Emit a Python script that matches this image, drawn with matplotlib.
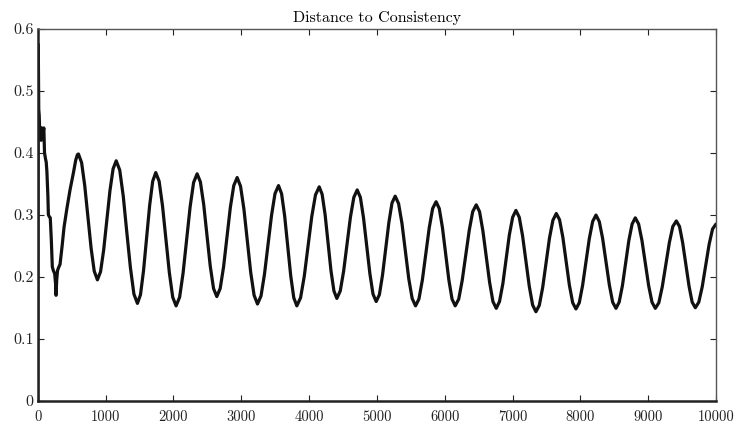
import numpy as np
import matplotlib.pyplot as plt

plt.rcParams['font.family'] = ['cmr10', 'DejaVu Serif']
plt.rcParams['axes.formatter.use_mathtext'] = True

# iteration -> distance to consistency
# start transient first, then each half swing between a peak and a trough
iterations = [
    0, 8, 15, 22, 30, 40, 50, 60, 75, 90, 100, 115, 125, 135, 150, 157, 170, 185,
    200, 215, 230, 250, 262, 270, 280, 292, 305, 329, 360, 388, 430, 476, 525, 560, 585, 600,
    647, 693, 740, 787, 833, 880,
    926, 972, 1018, 1065, 1111, 1157,
    1209, 1261, 1313, 1366, 1418, 1470,
    1515, 1560, 1605, 1650, 1695, 1740,
    1790, 1840, 1890, 1940, 1990, 2040,
    2092, 2143, 2195, 2247, 2298, 2350,
    2398, 2447, 2495, 2543, 2592, 2640,
    2690, 2740, 2790, 2840, 2890, 2940,
    2990, 3040, 3090, 3140, 3190, 3240,
    3292, 3343, 3395, 3447, 3498, 3550,
    3595, 3640, 3685, 3730, 3775, 3820,
    3875, 3930, 3985, 4040, 4095, 4150,
    4193, 4237, 4280, 4323, 4367, 4410,
    4460, 4510, 4560, 4610, 4660, 4710,
    4757, 4803, 4850, 4897, 4943, 4990,
    5037, 5083, 5130, 5177, 5223, 5270,
    5320, 5370, 5420, 5470, 5520, 5570,
    5620, 5671, 5721, 5772, 5822, 5873,
    5920, 5967, 6014, 6061, 6108, 6155,
    6207, 6258, 6310, 6362, 6413, 6465,
    6514, 6563, 6612, 6662, 6711, 6760,
    6808, 6857, 6905, 6953, 7002, 7050,
    7099, 7148, 7198, 7247, 7296, 7345,
    7395, 7445, 7495, 7545, 7595, 7645,
    7693, 7742, 7790, 7838, 7887, 7935,
    7984, 8033, 8082, 8132, 8181, 8230,
    8279, 8328, 8378, 8427, 8476, 8525,
    8572, 8620, 8668, 8715, 8763, 8810,
    8859, 8908, 8958, 9007, 9056, 9105,
    9157, 9208, 9260, 9312, 9363, 9415,
    9462, 9508, 9555, 9602, 9648, 9695,
    9746, 9797, 9848, 9898, 9949, 10000,
]
distance = [
    0.0, 0.575, 0.47, 0.46, 0.43, 0.44, 0.42, 0.44, 0.43, 0.44, 0.40, 0.39, 0.385, 0.37, 0.33, 0.30, 0.297, 0.295,
    0.26, 0.216, 0.21, 0.205, 0.19, 0.17, 0.195, 0.21, 0.214, 0.22, 0.25, 0.28, 0.31, 0.34, 0.367, 0.388, 0.397, 0.398,
    0.384, 0.347, 0.2965, 0.246, 0.209, 0.195,
    0.208, 0.243, 0.291, 0.339, 0.374, 0.387,
    0.372, 0.330, 0.272, 0.215, 0.172, 0.157,
    0.171, 0.210, 0.2625, 0.315, 0.354, 0.368,
    0.354, 0.314, 0.2605, 0.207, 0.167, 0.153,
    0.167, 0.206, 0.2595, 0.313, 0.352, 0.366,
    0.353, 0.3165, 0.267, 0.2175, 0.181, 0.168,
    0.181, 0.216, 0.264, 0.312, 0.347, 0.360,
    0.346, 0.309, 0.258, 0.207, 0.170, 0.156,
    0.169, 0.204, 0.2515, 0.299, 0.334, 0.347,
    0.334, 0.2985, 0.250, 0.2015, 0.166, 0.153,
    0.166, 0.201, 0.249, 0.297, 0.332, 0.345,
    0.333, 0.300, 0.255, 0.210, 0.177, 0.165,
    0.177, 0.209, 0.2525, 0.296, 0.328, 0.340,
    0.328, 0.295, 0.250, 0.205, 0.172, 0.160,
    0.171, 0.2025, 0.245, 0.2875, 0.319, 0.330,
    0.318, 0.286, 0.2415, 0.197, 0.165, 0.153,
    0.164, 0.195, 0.237, 0.279, 0.310, 0.321,
    0.310, 0.279, 0.237, 0.195, 0.164, 0.153,
    0.164, 0.194, 0.2345, 0.275, 0.305, 0.316,
    0.305, 0.274, 0.2325, 0.191, 0.160, 0.149,
    0.160, 0.1885, 0.228, 0.2675, 0.296, 0.307,
    0.296, 0.266, 0.225, 0.1845, 0.1545, 0.1435,
    0.154, 0.183, 0.223, 0.2625, 0.291, 0.302,
    0.292, 0.2635, 0.225, 0.1865, 0.158, 0.148,
    0.158, 0.186, 0.224, 0.2615, 0.289, 0.2995,
    0.289, 0.262, 0.224, 0.187, 0.159, 0.149,
    0.159, 0.1855, 0.222, 0.2585, 0.285, 0.295,
    0.285, 0.2585, 0.222, 0.1855, 0.159, 0.149,
    0.158, 0.184, 0.2195, 0.255, 0.281, 0.290,
    0.281, 0.255, 0.220, 0.185, 0.159, 0.150,
    0.159, 0.184, 0.218, 0.252, 0.277, 0.285,
]

x_ticks = [0, 1000, 2000, 3000, 4000, 5000, 6000, 7000, 8000, 9000, 10000]
y_ticks = [0, 0.1, 0.2, 0.3, 0.4, 0.5, 0.6]
y_labels = ['0', '0.1', '0.2', '0.3', '0.4', '0.5', '0.6']

fig = plt.figure(figsize=(7.34, 4.23), dpi=100)
ax = fig.add_axes([0.0514, 0.0527, 0.9241, 0.8793])

ax.plot(iterations, distance, color='#111111', linewidth=2.3,
        solid_joinstyle='round', solid_capstyle='round')

ax.set_xlim(0, 10000)
ax.set_ylim(0, 0.6)
ax.set_xticks(x_ticks)
ax.set_xticklabels([str(t) for t in x_ticks])
ax.set_yticks(y_ticks)
ax.set_yticklabels(y_labels)
ax.tick_params(direction='in', top=True, right=True, length=4, width=0.8,
               pad=4, colors='#222222')
ax.tick_params(axis='x', pad=7, labelsize=10.5)
ax.tick_params(axis='y', pad=3, labelsize=11.5)

for side in ['left', 'bottom']:
    ax.spines[side].set_linewidth(1.8)
    ax.spines[side].set_color('#222222')
for side in ['top', 'right']:
    ax.spines[side].set_linewidth(1.0)
    ax.spines[side].set_color('#555555')

ax.set_title('Distance to Consistency', fontsize=11.5, pad=5)

fig.savefig('out.png', dpi=100)
